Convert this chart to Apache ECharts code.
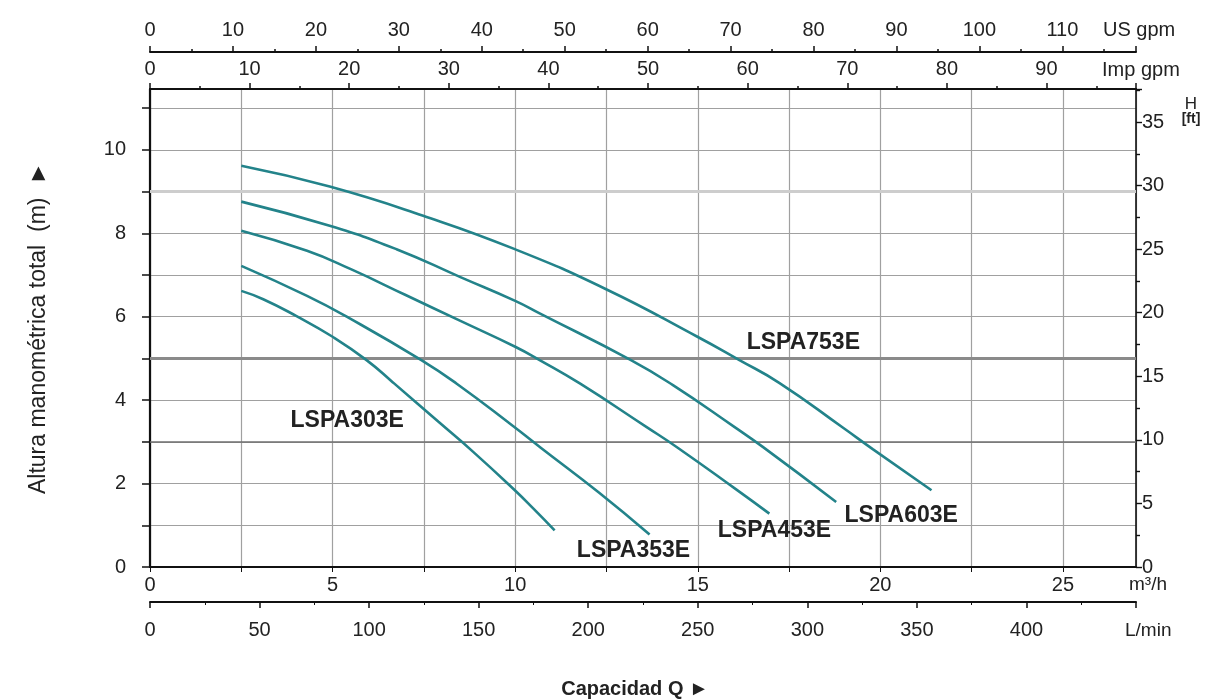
<!DOCTYPE html>
<html><head><meta charset="utf-8">
<script src="https://cdn.jsdelivr.net/npm/echarts@6/dist/echarts.min.js"></script>
<style>html,body{margin:0;padding:0;background:#fff}#c{width:1205px;height:700px}</style>
</head><body><div id="c"></div>
<script>
// ---- data (flow Q in m3/h, head H in m) ----
const models = ['LSPA303E','LSPA353E','LSPA453E','LSPA603E','LSPA753E'];
const flow303 = [2.5,3.1,4.0,5.0,5.93,6.66,7.9,8.85,9.99,10.5,11.08];
const head303 = [6.62,6.42,6.02,5.52,4.96,4.42,3.48,2.76,1.84,1.40,0.88];
const flow353 = [2.5,4.3,5.47,7.43,8.39,9.94,10.7,12.3,13.68];
const head353 = [7.22,6.5,5.96,4.96,4.40,3.38,2.86,1.78,0.78];
const flow453 = [2.5,4.3,5.5,7.0,8.5,10.0,10.67,11.77,13.59,14.45,16.05,16.96];
const head453 = [8.06,7.58,7.14,6.52,5.9,5.28,4.96,4.40,3.36,2.86,1.86,1.28];
const flow603 = [2.5,4.92,6.75,8.5,10.0,10.67,13.17,14.32,16.0,16.78,18.79];
const head603 = [8.76,8.18,7.62,6.95,6.38,6.08,4.96,4.36,3.36,2.88,1.56];
const flow753 = [2.5,4.92,7.48,9.99,12.49,14.99,16.14,17.24,18.96,19.8,21.4];
const head753 = [9.62,9.12,8.42,7.62,6.66,5.52,4.96,4.41,3.35,2.82,1.84];
// label anchors (Q, H) for model names
const labelAnchors = [[5.4,3.52],[13.24,0.38],[17.1,0.86],[20.57,1.24],[17.89,5.37]];

// axis ranges and unit conversions
const qMax = 27;            // m3/h
const hMax = 11.46;         // m
const LMIN_PER_M3H = 16.6667;
const USGPM_PER_M3H = 4.40287;
const IMPGPM_PER_M3H = 3.66615;
const FT_PER_M = 1 / 0.3048;

const flows = [flow303, flow353, flow453, flow603, flow753];
const heads = [head303, head353, head453, head603, head753];

const FONT = '"Liberation Sans", Arial, sans-serif';
const TXT = '#222';
const curveColor = '#23838a';
const gridColor = '#a0a0a0';

const chart = echarts.init(document.getElementById('c'), null, {renderer: 'canvas'});

const series = models.map((name, i) => ({
  name, type: 'line', xAxisIndex: 0, yAxisIndex: 0, z: 5,
  data: flows[i].map((q, k) => [q, heads[i][k]]),
  smooth: 0.5, showSymbol: false, symbol: 'none',
  lineStyle: {color: curveColor, width: 2.6},
  markPoint: {
    symbol: 'circle', symbolSize: 1, itemStyle: {color: 'rgba(0,0,0,0)'},
    label: {show: true, position: 'inside', formatter: name,
      fontFamily: FONT, fontWeight: 'bold', fontSize: 23, color: TXT},
    data: [{coord: labelAnchors[i]}]
  }
}));
// emphasised horizontal reference lines
series.push({
  type: 'line', xAxisIndex: 0, yAxisIndex: 0, data: [], z: 1, silent: true,
  markLine: {silent: true, symbol: 'none', label: {show: false},
    data: [
      {yAxis: 5, lineStyle: {color: '#8a8a8a', width: 3, type: 'solid'}},
      {yAxis: 9, lineStyle: {color: '#cdcdcd', width: 3, type: 'solid'}},
      {yAxis: 3, lineStyle: {color: '#6f6f6f', width: 1.5, type: 'solid'}}
    ]}
});

const axLine = w => ({show: true, onZero: false, lineStyle: {color: '#111', width: w}});
const lbl = (extra) => Object.assign({fontFamily: FONT, fontSize: 20, color: TXT, showMaxLabel: false}, extra);
const every = (step, max) => v => (Math.abs(v % step) < 1e-6 && v < max - 1e-3 ? String(v) : '');
const nameStyle = (va, pad) => ({fontFamily: FONT, fontSize: 19, color: TXT, align: 'left', verticalAlign: va, padding: pad});

chart.setOption({
  animation: false,
  backgroundColor: '#fff',
  grid: {left: 150, right: 69, top: 89, bottom: 133, containLabel: false},
  xAxis: [
    { // m3/h
      type: 'value', position: 'bottom', min: 0, max: qMax, interval: 2.5,
      axisLine: axLine(2), axisTick: {show: true, length: 5, lineStyle: {color: '#111'}},
      axisLabel: lbl({margin: 8, formatter: every(5, qMax)}),
      splitLine: {show: true, lineStyle: {color: gridColor, width: 1.2}},
      name: 'm³/h', nameLocation: 'end', nameGap: -7, nameMoveOverlap: false,
      nameTextStyle: nameStyle('top', [8,0,0,0])
    },
    { // L/min
      type: 'value', position: 'bottom', offset: 35, min: 0, max: qMax * LMIN_PER_M3H, interval: 50,
      axisLine: axLine(2), axisTick: {show: true, length: 6, lineStyle: {color: '#111', width: 1.5}},
      minorTick: {show: true, splitNumber: 2, length: 3, lineStyle: {color: '#111'}},
      axisLabel: lbl({margin: 18, formatter: every(50, qMax * LMIN_PER_M3H)}),
      splitLine: {show: false},
      name: 'L/min', nameLocation: 'end', nameGap: -11, nameMoveOverlap: false,
      nameTextStyle: nameStyle('top', [19,0,0,0])
    },
    { // Imp gpm
      type: 'value', position: 'top', offset: 0, min: 0, max: qMax * IMPGPM_PER_M3H, interval: 10,
      axisLine: axLine(2), axisTick: {show: true, length: 6, lineStyle: {color: '#111', width: 1.5}},
      minorTick: {show: true, splitNumber: 2, length: 3, lineStyle: {color: '#111', width: 1.5}},
      axisLabel: lbl({margin: 10, formatter: every(10, qMax * IMPGPM_PER_M3H)}),
      splitLine: {show: false},
      name: 'Imp gpm', nameLocation: 'end', nameGap: -34, nameMoveOverlap: false,
      nameTextStyle: Object.assign(nameStyle('bottom', [0,0,9,0]), {fontSize: 20})
    },
    { // US gpm
      type: 'value', position: 'top', offset: 37, min: 0, max: qMax * USGPM_PER_M3H, interval: 10,
      axisLine: axLine(2), axisTick: {show: true, length: 6, lineStyle: {color: '#111', width: 1.5}},
      minorTick: {show: true, splitNumber: 2, length: 3, lineStyle: {color: '#111', width: 1.5}},
      axisLabel: lbl({margin: 12, formatter: every(10, qMax * USGPM_PER_M3H)}),
      splitLine: {show: false},
      name: 'US gpm', nameLocation: 'end', nameGap: -33, nameMoveOverlap: false,
      nameTextStyle: Object.assign(nameStyle('bottom', [0,0,12,0]), {fontSize: 20})
    }
  ],
  yAxis: [
    { // metres
      type: 'value', position: 'left', min: 0, max: hMax, interval: 1,
      axisLine: axLine(2.2), axisTick: {show: true, length: 8, lineStyle: {color: '#111', width: 1.5}},
      axisLabel: lbl({margin: 24, formatter: every(2, hMax)}),
      splitLine: {show: true, lineStyle: {color: gridColor, width: 1.2}},
      name: 'Altura manométrica total  (m)  ►', nameLocation: 'middle', nameGap: 100, nameMoveOverlap: false,
      nameTextStyle: {fontFamily: FONT, fontSize: 23, color: TXT}
    },
    { // feet
      type: 'value', position: 'right', min: 0, max: hMax * FT_PER_M, interval: 5,
      axisLine: axLine(1.6), axisTick: {show: true, length: 6, lineStyle: {color: '#111', width: 1.4}},
      minorTick: {show: true, splitNumber: 2, length: 4, lineStyle: {color: '#111', width: 1.4}},
      axisLabel: lbl({margin: 6, formatter: every(5, hMax * FT_PER_M)}),
      splitLine: {show: false}
    }
  ],
  graphic: [
    {type: 'text', x: 1191, y: 104, style: {text: 'H', font: '17px ' + FONT, fill: TXT, textAlign: 'center', textVerticalAlign: 'middle'}},
    {type: 'text', x: 1191, y: 119, style: {text: '[ft]', font: 'bold 14px ' + FONT, fill: TXT, textAlign: 'center', textVerticalAlign: 'middle'}},
    {type: 'text', x: 635, y: 689, style: {text: 'Capacidad Q ►', font: 'bold 20px ' + FONT, fill: TXT, textAlign: 'center', textVerticalAlign: 'middle'}}
  ],
  series
});
</script>
</body></html>
